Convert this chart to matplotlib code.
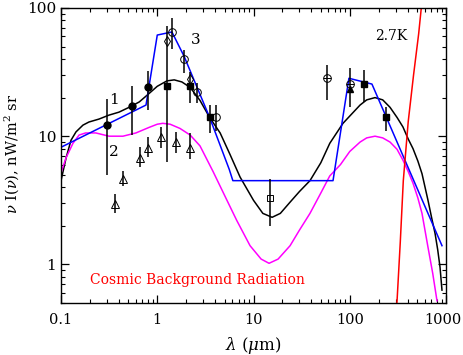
import matplotlib
matplotlib.use('Agg')
import matplotlib.pyplot as plt
import matplotlib.transforms as mtransforms
import numpy as np

plt.rcParams['font.family'] = 'DejaVu Serif'
plt.rcParams['mathtext.fontset'] = 'dejavuserif'

# model curves (lambda in micron, nu I_nu in nW/m^2/sr)
blackX = [0.1, 0.113, 0.127, 0.143, 0.169, 0.195, 0.248, 0.315, 0.4, 0.51, 0.65, 0.82, 1.0,
          1.26, 1.5, 1.8, 2.2, 2.78, 3.5, 4.5, 5.7, 7.25, 10, 12.5, 15.6, 19, 23.9, 30, 38.6,
          50, 62, 85, 128, 150, 183, 220, 262, 310, 357, 405, 454, 510, 563, 650, 710, 769,
          820, 867, 908]
blackY = [4.5, 6.8, 9.3, 10.8, 12.2, 12.9, 13.6, 14.6, 15.4, 16.8, 18.5, 21.5, 24.5,
          27, 27.5, 26.5, 24, 19, 14, 10.6, 7.2, 4.8, 3.16, 2.5, 2.33, 2.5, 3.05, 3.7, 4.5,
          6.2, 8.8, 12.6, 17.5, 19.2, 20.0, 19.2, 16.8, 14.0, 11.8, 9.5, 8.0, 6.4, 5.1, 3.16,
          2.3, 1.75, 1.3, 0.95, 0.63]

magX = [0.1, 0.113, 0.133, 0.154, 0.18, 0.23, 0.315, 0.44, 0.6, 0.82, 1.0, 1.14, 1.36,
        1.72, 2.2, 2.78, 3.8, 5.3, 6.7, 9.2, 12, 14.5, 18, 24, 30, 38.6, 50, 62, 80, 100,
        128, 150, 183, 220, 262, 310, 357, 405, 454, 510, 563, 650, 728, 806]
magY = [5.2, 6.8, 8.8, 10.2, 10.6, 10.6, 10.0, 10.0, 10.6, 11.7, 12.4, 12.6, 12.4,
        11.5, 10.2, 8.4, 5.3, 3.16, 2.2, 1.4, 1.1, 1.02, 1.1, 1.4, 1.85, 2.5, 3.6, 4.9, 6.0, 7.6,
        9.0, 9.7, 10.0, 9.7, 9.0, 7.9, 6.5, 5.3, 4.3, 3.3, 2.5, 1.36, 0.85, 0.52]

blueX = [0.1, 0.764, 1.0, 1.42, 1.9, 3.5, 5.6, 6.1, 67, 98, 170, 908]
blueY = [8.2, 17.5, 61.5, 65, 42, 14, 5.5, 4.5, 4.5, 28.3, 25.5, 1.4]

cmbX = [300, 310, 335, 360, 405, 460, 520, 564]
cmbY = [0.38, 0.52, 1.5, 4.5, 13, 30, 63, 115]

# data points
fcircX = [0.3, 0.55, 0.8]
fcircY = [12.2, 17.2, 24]
fcircLo = [4.96, 10.2, 16]
fcircHi = [19.6, 24.6, 32]

fsqX = [1.25, 2.2, 3.5, 140, 240]
fsqY = [24.5, 24.5, 14, 25.4, 14.2]
fsqLo = [6.3, 18, 10.6, 18.5, 11]
fsqHi = [72, 31.5, 17.5, 32.7, 16.8]

ftriX = [100]
ftriY = [23.5]
ftriLo = [16.8]
ftriHi = [34]

ocircX = [1.42, 1.9, 2.6, 4.1]
ocircY = [65, 40, 22, 14]
ocircLo = [48, 31, 18, 11]
ocircHi = [83, 47, 26, 17.5]

diamX = [1.25, 2.2]
diamY = [55, 28]

pcircX = [58, 100]
pcircY = [28.4, 25.4]
pcircLo = [19, 25.4]
pcircHi = [36, 25.4]

otriX = [0.36, 0.44, 0.66, 0.8, 1.09, 1.57, 2.2]
otriY = [2.95, 4.6, 6.7, 8.1, 9.8, 9.0, 8.1]
otriLo = [2.5, 4.06, 5.7, 6.85, 8.05, 7.35, 6.6]
otriHi = [3.52, 5.4, 8.2, 9.8, 11.7, 10.8, 10.6]

osqX = [15]
osqY = [3.3]
osqLo = [2.0]
osqHi = [4.6]


def errs(y, lo, hi):
    y = np.array(y)
    return [y - np.array(lo), np.array(hi) - y]


fig = plt.figure(figsize=(4.63, 3.55), dpi=100)
ax = fig.add_axes([0.1318, 0.1465, 0.8315, 0.8310])

ax.plot(blackX, blackY, color='black', lw=1.1)
ax.plot(magX, magY, color='#ff00ff', lw=1.1)
ax.plot(blueX, blueY, color='#0000ff', lw=1.1)
ax.plot(cmbX, cmbY, color='#ff0000', lw=1.1)

ebk = dict(ecolor='black', elinewidth=1.1, capsize=0, ls='none')
ax.errorbar(fcircX, fcircY, yerr=errs(fcircY, fcircLo, fcircHi), fmt='o', ms=5,
            mfc='black', mec='black', **ebk)
ax.errorbar(fsqX, fsqY, yerr=errs(fsqY, fsqLo, fsqHi), fmt='s', ms=4.5,
            mfc='black', mec='black', **ebk)
ax.errorbar(ftriX, ftriY, yerr=errs(ftriY, ftriLo, ftriHi), fmt='^', ms=5,
            mfc='black', mec='black', **ebk)
ax.errorbar(ocircX, ocircY, yerr=errs(ocircY, ocircLo, ocircHi), fmt='o', ms=5.5,
            mfc='none', mec='black', mew=0.7, **ebk)
ax.errorbar(pcircX, pcircY, yerr=errs(pcircY, pcircLo, pcircHi), fmt='o', ms=5.5,
            mfc='none', mec='black', mew=0.7, **ebk)
ax.plot(pcircX, pcircY, ls='none', marker='_', ms=5.5, mec='black', mew=0.7)
ax.plot(diamX, diamY, ls='none', marker='d', ms=5.5, mfc='none', mec='black', mew=0.7)
ax.errorbar(otriX, otriY, yerr=errs(otriY, otriLo, otriHi), fmt='^', ms=5.5,
            mfc='none', mec='black', mew=0.7, **ebk)
ax.errorbar(osqX, osqY, yerr=errs(osqY, osqLo, osqHi), fmt='s', ms=5,
            mfc='none', mec='black', mew=0.7, **ebk)

ax.text(0.356, 19, '1', fontsize=11, ha='center', va='center')
ax.text(0.356, 7.5, '2', fontsize=11, ha='center', va='center')
ax.text(2.53, 56, '3', fontsize=11, ha='center', va='center')
ax.text(268, 60, '2.7K', fontsize=10, ha='center', va='center')
ax.text(0.2, 0.76, 'Cosmic Background Radiation', color='#ff0000', fontsize=10,
        ha='left', va='center')

ax.set_xscale('log')
ax.set_yscale('log')
ax.set_xlim(0.1, 1000)
ax.set_ylim(0.5, 100)
ax.set_xticks([0.1, 1, 10, 100, 1000])
ax.set_xticklabels(['0.1', '1', '10', '100', '1000'])
ax.set_yticks([1, 10, 100])
ax.set_yticklabels(['1', '10', '100'])
ax.tick_params(which='both', direction='in', top=True, right=True, labelsize=11)
ax.tick_params(axis='x', labelsize=10.5)
ax.tick_params(which='major', length=6, width=0.9)
ax.tick_params(which='minor', length=3, width=0.8)
ax.tick_params(axis='x', pad=7)
# nudge the last x label so it stays inside the figure
last = ax.get_xticklabels()[-1]
last.set_transform(last.get_transform() +
                   mtransforms.ScaledTranslation(-3 / 100, 0, fig.dpi_scale_trans))
ax.set_xlabel(r'$\lambda$ ($\mu$m)', fontsize=12, labelpad=6)
ax.set_ylabel(r'$\nu$ I($\nu$), nW/m$^2$ sr', fontsize=10.5)
ax.yaxis.set_label_coords(-0.103, 0.507)
for s in ax.spines.values():
    s.set_linewidth(1.0)

plt.savefig('out.png', dpi=100)
